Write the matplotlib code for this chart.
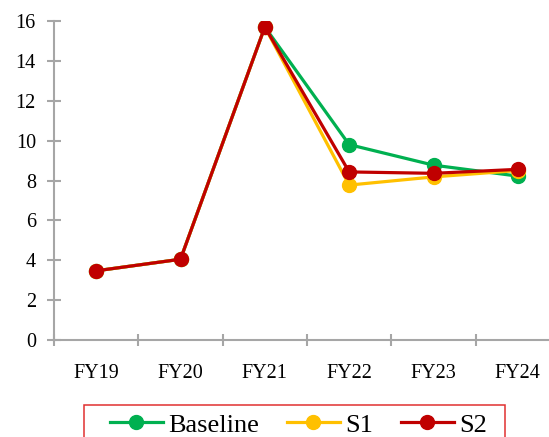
import numpy as np
import matplotlib.pyplot as plt
from matplotlib.patches import Rectangle

# data
years = ["FY19", "FY20", "FY21", "FY22", "FY23", "FY24"]
baseline = [3.47, 4.05, 15.7, 9.8, 8.77, 8.22]
s1 = [3.47, 4.05, 15.7, 7.77, 8.18, 8.5]
s2 = [3.47, 4.05, 15.7, 8.43, 8.36, 8.56]

plt.rcParams['font.family'] = ['Liberation Serif', 'DejaVu Serif']

W, H = 549, 437
fig = plt.figure(figsize=(W / 100, H / 100), dpi=100)
ax = fig.add_axes([54 / W, 1 - 340 / H, 506 / W, 319 / H])

x = np.arange(len(years))
ax.plot(x, baseline, color="#00B050", lw=2.3, marker="o", ms=10, label="Baseline", zorder=3)
ax.plot(x, s1, color="#FFC000", lw=2.3, marker="o", ms=10, label="S1", zorder=4)
ax.plot(x, s2, color="#C00000", lw=2.3, marker="o", ms=10, label="S2", zorder=5)

ax.set_xlim(-0.5, len(years) - 0.5)
ax.set_ylim(0, 16)
ax.set_yticks(np.arange(0, 17, 2))
ax.set_xticks(x)
ax.set_xticklabels(years)
ax.set_xticks(np.arange(-0.5, len(years)), minor=True)

grey = "#A6A6A6"
for side in ["top", "right"]:
    ax.spines[side].set_visible(False)
for side in ["left", "bottom"]:
    ax.spines[side].set_color(grey)
    ax.spines[side].set_linewidth(1.5)
    ax.spines[side].set_zorder(1)

ax.tick_params(axis="y", direction="inout", length=10, width=1.5, color=grey,
               labelsize=14.5, pad=8)
ax.tick_params(axis="x", which="major", length=0, labelsize=14.5, pad=17)
ax.tick_params(axis="x", which="minor", direction="inout", length=9, width=1.5, color=grey)

# legend without its own frame, box drawn separately (runs off the bottom like the original)
leg = fig.legend(loc="lower left", bbox_to_anchor=(110 / W, 1 - 436.5 / H), ncol=3,
                 fontsize=19, frameon=False, handlelength=2.0,
                 handletextpad=0.2, columnspacing=1.06, borderpad=0,
                 borderaxespad=0)
fig.patches.append(Rectangle((84 / W, -0.05), 421 / W, (H - 405) / H + 0.05,
                             transform=fig.transFigure, fill=False,
                             edgecolor="#E03030", linewidth=1.1))

fig.savefig("out.png", dpi=100)
